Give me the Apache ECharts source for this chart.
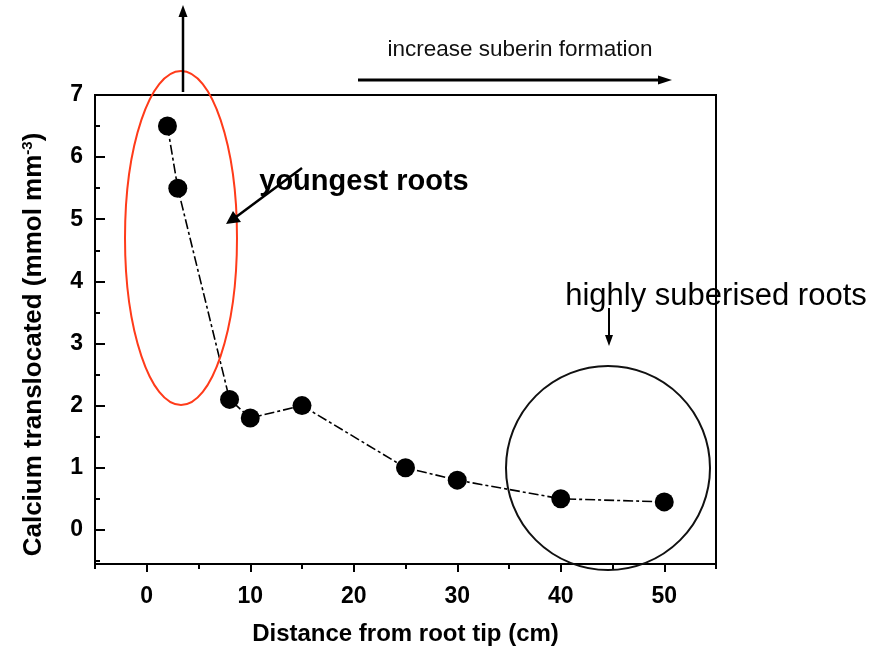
<!DOCTYPE html>
<html><head><meta charset="utf-8">
<script src="https://cdn.jsdelivr.net/npm/echarts@6/dist/echarts.min.js"></script>
<style>html,body{margin:0;padding:0;background:#fff}#c{width:877px;height:651px}</style>
</head><body><div id="c"></div>
<script>
const distance = [2, 3, 8, 10, 15, 25, 30, 40, 50];
const calcium = [6.5, 5.5, 2.1, 1.8, 2.0, 1.0, 0.8, 0.5, 0.45];
const xMajorTicks = [0, 10, 20, 30, 40, 50];
const xMinorTicks = [-5, 5, 15, 25, 35, 45, 55];
const yMajorTicks = [0, 1, 2, 3, 4, 5, 6, 7];
const yMinorTicks = [-0.5, 0.5, 1.5, 2.5, 3.5, 4.5, 5.5, 6.5];

const chart = echarts.init(document.getElementById('c'));
const FONT = '"Liberation Sans", Arial, sans-serif';
const xBase = {type:'value', min:-5, max:55, splitLine:{show:false}, gridIndex:0};
const yBase = {type:'value', min:-0.55, max:7, splitLine:{show:false}, gridIndex:0};
chart.setOption({
  animation:false,
  grid:{left:95, top:95, right:161, bottom:84, show:true, borderColor:'#000', borderWidth:2, backgroundColor:'transparent'},
  xAxis:[
    Object.assign({}, xBase, {
      position:'bottom',
      axisLine:{show:true, onZero:false, lineStyle:{color:'#000', width:2}},
      axisTick:{show:true, inside:false, length:8, lineStyle:{color:'#000', width:2}, customValues:xMajorTicks},
      axisLabel:{show:true, customValues:xMajorTicks, margin:21, color:'#000', fontFamily:FONT, fontWeight:'bold', fontSize:23},
      name:'Distance from root tip (cm)', nameLocation:'middle', nameGap:58,
      nameTextStyle:{color:'#000', fontFamily:FONT, fontWeight:'bold', fontSize:24}
    }),
    Object.assign({}, xBase, {
      position:'bottom',
      axisLine:{show:false, onZero:false},
      axisTick:{show:true, inside:false, length:5, lineStyle:{color:'#000', width:2}, customValues:xMinorTicks},
      axisLabel:{show:false}
    })
  ],
  yAxis:[
    Object.assign({}, yBase, {
      position:'left',
      axisLine:{show:true, onZero:false, lineStyle:{color:'#000', width:2}},
      axisTick:{show:true, inside:true, length:10, lineStyle:{color:'#000', width:2}, customValues:yMajorTicks},
      axisLabel:{show:true, customValues:yMajorTicks, margin:12, color:'#000', fontFamily:FONT, fontWeight:'bold', fontSize:23},
      name:'{a|Calcium translocated (mmol mm}{s|-3}{a|)}', nameLocation:'middle', nameGap:48, nameRotate:90,
      nameTextStyle:{padding:[0,30,0,0], rich:{
        a:{color:'#000', fontFamily:FONT, fontWeight:'bold', fontSize:26},
        s:{color:'#000', fontFamily:FONT, fontWeight:'bold', fontSize:15, verticalAlign:'top', padding:[0,0,12,0]}
      }}
    }),
    Object.assign({}, yBase, {
      position:'left',
      axisLine:{show:false, onZero:false},
      axisTick:{show:true, inside:true, length:5, lineStyle:{color:'#000', width:2}, customValues:yMinorTicks},
      axisLabel:{show:false}
    })
  ],
  series:[{
    type:'line',
    xAxisIndex:0, yAxisIndex:0,
    data: distance.map((d,i)=>[d, calcium[i]]),
    symbol:'circle', symbolSize:19,
    itemStyle:{color:'#000'},
    lineStyle:{color:'#000', width:1.6, type:[10,3,3,3]},
    z:5
  }],
  graphic:[
    {type:'ellipse', shape:{cx:181, cy:238, rx:56, ry:167}, style:{fill:'none', stroke:'#ff3b1a', lineWidth:2}, z:10},
    {type:'circle', shape:{cx:608, cy:468, r:102}, style:{fill:'none', stroke:'#111', lineWidth:2}, z:10},
    {type:'line', shape:{x1:183, y1:92, x2:183, y2:14}, style:{stroke:'#000', lineWidth:2.5}, z:10},
    {type:'polygon', shape:{points:[[183,5],[178.5,17],[187.5,17]]}, style:{fill:'#000'}, z:10},
    {type:'text', x:520, y:50, style:{text:'increase suberin formation', font:'22.5px '+FONT, fill:'#111', align:'center', verticalAlign:'middle'}, z:10},
    {type:'line', shape:{x1:358, y1:80, x2:660, y2:80}, style:{stroke:'#000', lineWidth:3}, z:10},
    {type:'polygon', shape:{points:[[672,80],[658,75.5],[658,84.5]]}, style:{fill:'#000'}, z:10},
    {type:'text', x:364, y:182, style:{text:'youngest roots', font:'bold 29px '+FONT, fill:'#000', align:'center', verticalAlign:'middle'}, z:10},
    {type:'line', shape:{x1:302, y1:168, x2:236, y2:217}, style:{stroke:'#000', lineWidth:2.5}, z:10},
    {type:'polygon', shape:{points:[[226,224],[233,211],[241,222]]}, style:{fill:'#000'}, z:10},
    {type:'text', x:716, y:296, style:{text:'highly suberised roots', font:'31px '+FONT, fill:'#000', align:'center', verticalAlign:'middle'}, z:10},
    {type:'line', shape:{x1:609, y1:308, x2:609, y2:338}, style:{stroke:'#000', lineWidth:2}, z:10},
    {type:'polygon', shape:{points:[[609,346],[605,335],[613,335]]}, style:{fill:'#000'}, z:10}
  ]
});
</script>
</body></html>
